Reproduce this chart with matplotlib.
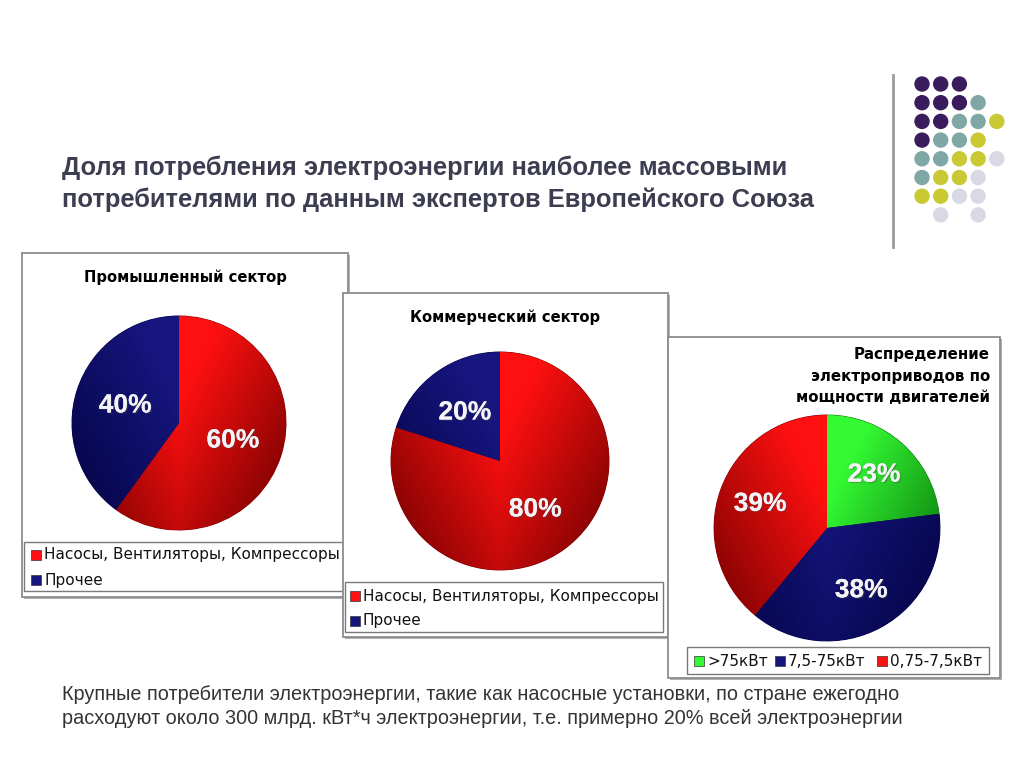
import numpy as np
import matplotlib.pyplot as plt
from matplotlib.patches import Rectangle, Circle
from matplotlib.colors import LinearSegmentedColormap
import matplotlib.patheffects as pe

W, H = 1024, 767

title_lines = ['Доля потребления электроэнергии наиболее массовыми',
               'потребителями по данным экспертов Европейского Союза']

ind_title = 'Промышленный сектор'
ind_labels = ['Насосы, Вентиляторы, Компрессоры', 'Прочее']
ind_values = [60, 40]

com_title = 'Коммерческий сектор'
com_labels = ['Насосы, Вентиляторы, Компрессоры', 'Прочее']
com_values = [80, 20]

drv_title = ['Распределение', 'электроприводов по', 'мощности двигателей']
drv_labels = ['>75кВт', '7,5-75кВт', '0,75-7,5кВт']
drv_values = [23, 38, 39]

bottom_text = ['Крупные потребители электроэнергии, такие как насосные установки, по стране ежегодно',
               'расходуют около 300 млрд. кВт*ч электроэнергии, т.е. примерно 20% всей электроэнергии']

# decorative dot pattern (P purple, T teal, Y yellow, L lavender)
dot_rows = ['PPP', 'PPPT', 'PPTTY', 'PTTY', 'TTYYL', 'TYYL', 'YYLL', '.L.L']
dot_colors = {'P': '#3a1c5c', 'T': '#7fa7a6', 'Y': '#c9c934', 'L': '#d9d9e6'}

# gradient pairs (light, dark)
red = ('#ff1010', '#8a0303')
navy = ('#16167e', '#06064e')
green = ('#34fa34', '#0c7c0c')

fig = plt.figure(figsize=(W / 100, H / 100), dpi=100)
bg = fig.add_axes([0, 0, 1, 1])
bg.set_xlim(0, W)
bg.set_ylim(H, 0)
bg.axis('off')

# slide title
for i, line in enumerate(title_lines):
    bg.text(62, 168 + i * 32, line, fontsize=18.4, fontweight='bold',
            family='Liberation Sans', color='#3d3d52', va='center', ha='left')

# decoration
bg.plot([893, 893], [75, 247], color='#9a9a9a', lw=2)
for r, row in enumerate(dot_rows):
    for c, ch in enumerate(row):
        if ch in dot_colors:
            bg.add_patch(Circle((922 + c * 18.7, 84 + r * 18.7), 7,
                                color=dot_colors[ch]))


def panel(x0, y0, x1, y1, z):
    bg.add_patch(Rectangle((x0 + 2, y0 + 2), x1 - x0, y1 - y0, facecolor='#b0b0b0',
                           edgecolor='none', zorder=z))
    bg.add_patch(Rectangle((x0, y0), x1 - x0, y1 - y0, facecolor='white',
                           edgecolor='#8c8c8c', lw=1.3, zorder=z + 0.1))


def legend_box(x0, y0, x1, y1, z):
    bg.add_patch(Rectangle((x0, y0), x1 - x0, y1 - y0, facecolor='white',
                           edgecolor='#7a7a7a', lw=1.0, zorder=z))


def draw_pie(cx, cy, r, values, grads, pctd):
    ax = fig.add_axes([(cx - r) / W, (H - cy - r) / H, 2 * r / W, 2 * r / H])
    wedges, _, autotexts = ax.pie(values, startangle=90, counterclock=False,
                                  autopct='%d%%', pctdistance=pctd,
                                  wedgeprops=dict(linewidth=0.8))
    yy, xx = np.mgrid[1:-1:200j, -1:1:200j]
    t = np.clip(0.1 + 0.75 * np.abs(xx) - 0.4 * yy, 0, 1)
    for w, g in zip(wedges, grads):
        cmap = LinearSegmentedColormap.from_list('g', [g[0], g[1]])
        w.set_facecolor(g[1])
        w.set_edgecolor(g[1])
        im = ax.imshow(t, extent=(-1, 1, -1, 1), cmap=cmap, vmin=0, vmax=1,
                       zorder=1)
        im.set_clip_path(w)
    for a in autotexts:
        a.set_color('#f4f4f8')
        a.set_fontsize(19)
        a.set_fontweight('bold')
        a.set_family('Liberation Sans')
        a.set_zorder(3)
        a.set_path_effects([pe.withSimplePatchShadow(offset=(1, -1), alpha=0.35),
                            pe.Normal()])
    ax.set_xlim(-1.01, 1.01)
    ax.set_ylim(-1.01, 1.01)
    ax.axis('off')
    return ax


# panel 1
panel(22, 253, 348, 597, 1)
bg.text(185, 277, ind_title, fontsize=10.6, fontweight='bold', ha='center',
        va='center', family='DejaVu Sans', zorder=2)
legend_box(24, 542, 344, 591, 2)
for i, (lab, g) in enumerate(zip(ind_labels, [red, navy])):
    y = 555 + i * 25
    bg.add_patch(Rectangle((31, y - 5), 10, 10, facecolor=g[0], edgecolor='#333333',
                           lw=0.5, zorder=3))
    bg.text(44, y, lab, fontsize=11, ha='left', va='center', family='DejaVu Sans',
            color='#111111', zorder=3)

# panel 2
panel(343, 293, 668, 637, 4)
bg.text(505, 317, com_title, fontsize=10.6, fontweight='bold', ha='center',
        va='center', family='DejaVu Sans', zorder=5)
legend_box(345, 582, 663, 632, 5)
for i, (lab, g) in enumerate(zip(com_labels, [red, navy])):
    y = 596 + i * 25
    bg.add_patch(Rectangle((350, y - 5), 10, 10, facecolor=g[0], edgecolor='#333333',
                           lw=0.5, zorder=6))
    bg.text(363, y, lab, fontsize=11, ha='left', va='center', family='DejaVu Sans',
            color='#111111', zorder=6)

# panel 3
panel(668, 337, 1000, 678, 7)
for i, line in enumerate(drv_title):
    bg.text(990, 355 + i * 21.5, line, fontsize=10.8, fontweight='bold', ha='right',
            va='center', family='DejaVu Sans', zorder=8)
legend_box(687, 647, 989, 674, 8)
lx = [694, 775, 877]
for x, lab, g in zip(lx, drv_labels, [green, navy, red]):
    bg.add_patch(Rectangle((x, 656), 10, 10, facecolor=g[0], edgecolor='#333333',
                           lw=0.5, zorder=9))
    bg.text(x + 13, 661, lab, fontsize=11, ha='left', va='center',
            family='DejaVu Sans', color='#111111', zorder=9)

# bottom text
for i, line in enumerate(bottom_text):
    bg.text(62, 694 + i * 25, line, fontsize=14.3, ha='left', va='center',
            family='Liberation Sans', color='#333333')

draw_pie(179, 423, 108, ind_values, [red, navy], 0.53)
draw_pie(500, 461, 110, com_values, [red, navy], 0.55)
draw_pie(827, 528, 114, drv_values, [green, navy, red], 0.63)

fig.savefig('out.png', dpi=100)
